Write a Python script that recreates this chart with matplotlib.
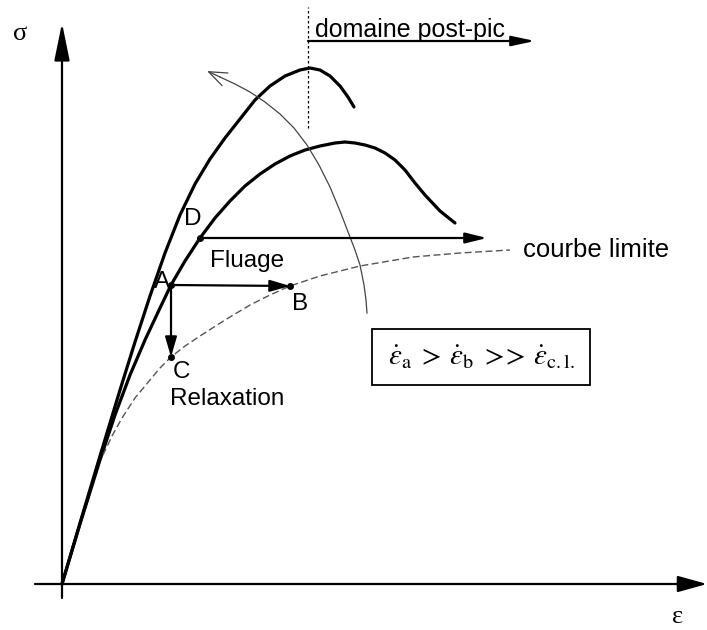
import matplotlib
matplotlib.use('Agg')
import matplotlib.pyplot as plt
from matplotlib.patches import Rectangle

plt.rcParams['font.family'] = ['Liberation Sans', 'DejaVu Sans']
plt.rcParams['mathtext.fontset'] = 'stix'

# curves (strain, stress), origin at the axes corner
upper_eps = [0, 18, 38, 58, 73, 88, 103, 118, 133, 148, 163, 178, 193,
             208, 223, 238, 248, 258, 268, 278, 286, 292]
upper_sig = [0, 61, 128, 194, 242, 288, 331, 369, 400, 425, 446, 465, 484,
             498, 508, 514, 516, 514, 508, 498, 487, 477]

mid_eps = [0, 18, 38, 53, 68, 83, 98, 109, 123, 138, 153, 168, 183, 198,
           213, 228, 243, 258, 273, 283, 293, 303, 313, 323, 333, 343, 353,
           363, 378, 393]
mid_sig = [0, 60, 124, 169, 209, 244, 276, 299, 323, 346, 366, 383, 398, 410,
           420, 428, 434, 438, 441, 442, 441, 439, 436, 431, 424, 414, 401,
           389, 373, 361]

lim_eps = [41, 50, 60, 73, 88, 98, 109, 123, 138, 163, 188, 208, 228, 258,
           298, 351, 398, 448]
lim_sig = [129, 148, 166, 186, 204, 216, 227, 238, 248, 264, 279, 289, 298,
           308, 318, 327, 331, 334]

arc_eps = [305, 304, 302, 298, 293, 288, 278, 268, 257, 245, 232, 218, 203,
           188, 173, 158, 145]
arc_sig = [271, 284, 299, 319, 334, 347, 373, 397, 419, 439, 456, 470, 482,
           492, 500, 507, 513]

# named points
pt_A = (109, 299)
pt_B = (228, 298)
pt_C = (109, 227)
pt_D = (138, 346)
fluage_end = 425
peak_eps = 246

fig = plt.figure(figsize=(7.07, 6.30), dpi=100)
ax = fig.add_axes([0, 0, 1, 1])
ax.set_xlim(-62, 645)
ax.set_ylim(-46, 584)
ax.axis('off')


def arrow(p0, p1, lw=1.6, hl=1.3, hw=0.32, color='k'):
    ax.annotate('', xy=p1, xytext=p0,
                arrowprops=dict(arrowstyle='-|>,head_length=%g,head_width=%g' % (hl, hw),
                                lw=lw, color=color, shrinkA=0, shrinkB=0,
                                mutation_scale=10))


# axes
arrow((0, -14), (0, 561), lw=1.6, hl=2.3, hw=0.47)
arrow((-27, 0), (645, 0), lw=1.6, hl=1.8, hw=0.5)
ax.text(-42, 550, 'σ', family=['Liberation Serif', 'DejaVu Serif'], fontsize=19,
        ha='center', va='center')
ax.text(616, -33, 'ε', family=['Liberation Serif', 'DejaVu Serif'], fontsize=19,
        ha='center', va='center')

# stress-strain curves
ax.plot(upper_eps, upper_sig, color='k', lw=2.3, solid_capstyle='round',
        solid_joinstyle='round')
ax.plot(mid_eps, mid_sig, color='k', lw=2.3, solid_capstyle='round',
        solid_joinstyle='round')
ax.plot(lim_eps, lim_sig, color='#555555', lw=1.0, ls=(0, (5, 2.5)))
ax.plot(arc_eps[:-1], arc_sig[:-1], color='#444444', lw=0.9)
ax.annotate('', xy=(arc_eps[-1], arc_sig[-1]), xytext=(arc_eps[-2], arc_sig[-2]),
            arrowprops=dict(arrowstyle='->,head_length=1.3,head_width=0.5', lw=0.9,
                            color='#444444', shrinkA=0, shrinkB=0, mutation_scale=10))

# post-peak domain
ax.plot([peak_eps, peak_eps], [456, 577], color='k', lw=0.9, ls=(0, (2, 2)))
arrow((peak_eps, 543), (473, 543), lw=1.6, hl=1.4, hw=0.3)
ax.text(253, 547, 'domaine post-pic', fontsize=18, ha='left', va='baseline')

# creep and relaxation
arrow(pt_D, (fluage_end, pt_D[1]), lw=1.6, hl=1.3, hw=0.32)
arrow(pt_A, pt_B, lw=1.6, hl=1.2, hw=0.35)
arrow(pt_A, pt_C, lw=1.6, hl=1.2, hw=0.35)
for p in (pt_A, pt_B, pt_C, pt_D):
    ax.plot(*p, 'o', color='k', ms=4)

ax.text(131, 359, 'D', fontsize=17.5, ha='center', va='baseline')
ax.text(100, 296, 'A', fontsize=17.5, ha='center', va='baseline')
ax.text(238, 274, 'B', fontsize=17.5, ha='center', va='baseline')
ax.text(119, 206, 'C', fontsize=17.5, ha='center', va='baseline')
ax.text(148, 317, 'Fluage', fontsize=17.5, ha='left', va='baseline')
ax.text(108, 179, 'Relaxation', fontsize=17.5, ha='left', va='baseline')
ax.text(461, 327, 'courbe limite', fontsize=18.5, ha='left', va='baseline')

# strain-rate box
ax.add_patch(Rectangle((310, 199), 218, 56, fill=False, lw=1.3, ec='k'))
ax.text(420, 227,
        r'$\dot{\varepsilon}_{\mathrm{a}}\;{>}\,\dot{\varepsilon}_{\mathrm{b}}\;{>}\!\!{>}\,\dot{\varepsilon}_{\mathrm{c.l.}}$',
        fontsize=21, ha='center', va='center')

plt.savefig('out.png', dpi=100)
